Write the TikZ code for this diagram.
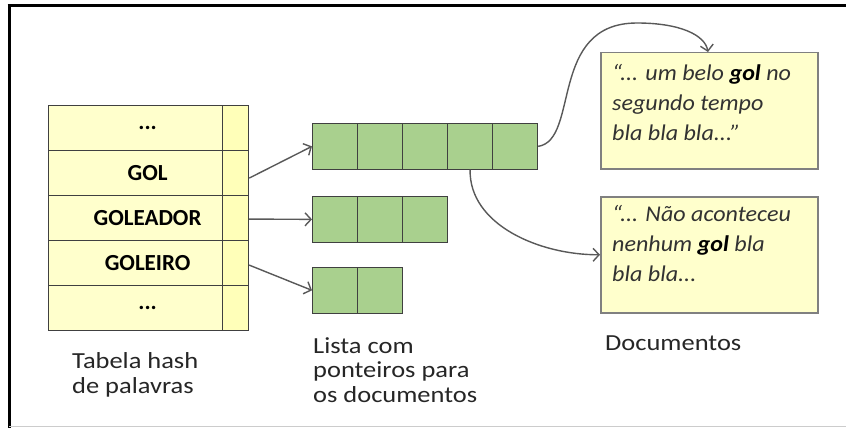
\documentclass[tikz,border=0pt]{standalone}
\usepackage{fontspec}
\setmainfont{Carlito}
\newfontfamily\lblfont[FakeStretch=1.15]{Carlito}
\newfontfamily\docfont[FakeStretch=1.07]{Carlito}
\usetikzlibrary{arrows.meta}
\definecolor{tabfill}{RGB}{255,255,204}
\definecolor{ptrfill}{RGB}{255,255,185}
\definecolor{cellgreen}{RGB}{169,208,142}
\definecolor{edgegray}{RGB}{64,64,64}
\definecolor{conn}{RGB}{89,89,89}
\definecolor{docedge}{RGB}{128,128,128}
\definecolor{txt}{RGB}{38,38,38}
\definecolor{doctxt}{RGB}{50,50,50}
\begin{document}
\begin{tikzpicture}[x=1pt,y=-1pt,
 tabcell/.style={draw=edgegray, line width=1.2pt, fill=tabfill, minimum width=174pt, minimum height=45pt, inner sep=0pt, anchor=north west},
 ptrcell/.style={draw=edgegray, line width=1.2pt, fill=ptrfill, minimum width=26pt, minimum height=45pt, inner sep=0pt, anchor=north west},
 listcell/.style={draw=edgegray, line width=1.2pt, fill=cellgreen, minimum width=45pt, minimum height=45.5pt, inner sep=0pt, anchor=north west},
 word/.style={font=\fontsize{23}{26}\selectfont\bfseries, text=black, inner sep=0pt},
 docbox/.style={draw=docedge, line width=1.5pt, fill=tabfill, minimum width=217pt, minimum height=116pt, inner sep=0pt, anchor=north west},
 doctext/.style={font=\docfont\fontsize{22.5}{30}\selectfont\itshape, text=doctxt, align=left, anchor=north west, inner sep=0pt},
 captext/.style={font=\lblfont\fontsize{23}{24.5}\selectfont, text=txt, align=left, anchor=base west, inner sep=0pt},
 ptr/.style={draw=conn, line width=1.4pt, -{Straight Barb[length=6pt,width=13pt,line width=1.4pt]}},
]
\useasboundingbox (0,0) rectangle (846,428);
\fill[white] (0,0) rectangle (846,428);
% frame
\draw[black, line width=3pt] (7.5,6) -- (846,6);
\draw[black, line width=3pt] (9,4.5) -- (9,428);
\draw[gray!40, line width=1pt] (9,426.5) -- (846,426.5);

% hash table
\node[tabcell] (t1) at (48,105) {};
\node[tabcell] (t2) at (48,150) {};
\node[tabcell] (t3) at (48,195) {};
\node[tabcell] (t4) at (48,240) {};
\node[tabcell] (t5) at (48,285) {};
\node[ptrcell] (p1) at (222,105) {};
\node[ptrcell] (p2) at (222,150) {};
\node[ptrcell] (p3) at (222,195) {};
\node[ptrcell] (p4) at (222,240) {};
\node[ptrcell] (p5) at (222,285) {};
\node[word] (w1) at ([xshift=12pt]t1.center) {...};
\node[word] (w2) at ([xshift=12pt]t2.center) {GOL};
\node[word] (w3) at ([xshift=12pt]t3.center) {GOLEADOR};
\node[word] (w4) at ([xshift=12pt]t4.center) {GOLEIRO};
\node[word] (w5) at ([xshift=12pt]t5.center) {...};

% lists
\node[listcell] (a1) at (312,123) {};
\node[listcell] (a2) at (357,123) {};
\node[listcell] (a3) at (402,123) {};
\node[listcell] (a4) at (447,123) {};
\node[listcell] (a5) at (492,123) {};
\node[listcell] (b1) at (312,196) {};
\node[listcell] (b2) at (357,196) {};
\node[listcell] (b3) at (402,196) {};
\node[listcell] (c1) at (312,267) {};
\node[listcell] (c2) at (357,267) {};

% documents
\node[docbox] (d1) at (600,52) {};
\node[docbox] (d2) at (600,196) {};
\node[doctext] (d1t) at ([xshift=12pt,yshift=-12pt]d1.north west)
  {“... um belo {\bfseries\color{black}gol} no\\segundo tempo\\bla bla bla...”};
\node[doctext] (d2t) at ([xshift=12pt,yshift=-9pt]d2.north west)
  {“... Não aconteceu\\nenhum {\bfseries\color{black}gol} bla\\bla bla...};

% captions (anchored at baseline of last line)
\node[captext] (cap1) at (72,393) {Tabela hash\\de palavras};
\node[captext] (cap2) at (313,402) {Lista com\\ponteiros para\\os documentos};
\node[captext] (cap3) at (605,350) {Documentos};

% connectors
\draw[ptr] ([yshift=-5pt]p2.east) -- (a1.west);
\draw[ptr] ([yshift=-1pt]p3.east) -- (b1.west);
\draw[ptr] ([yshift=-2pt]p4.east) -- (c1.west);
\draw[ptr] (a5.east) .. controls (580,140) and (548,23) .. (637,23)
  .. controls (680,23) and (705,35) .. ([xshift=108pt]d1.north west);
\draw[ptr] (a4.south) .. controls (469,225) and (540,255) .. (d2.west);
\end{tikzpicture}
\end{document}
